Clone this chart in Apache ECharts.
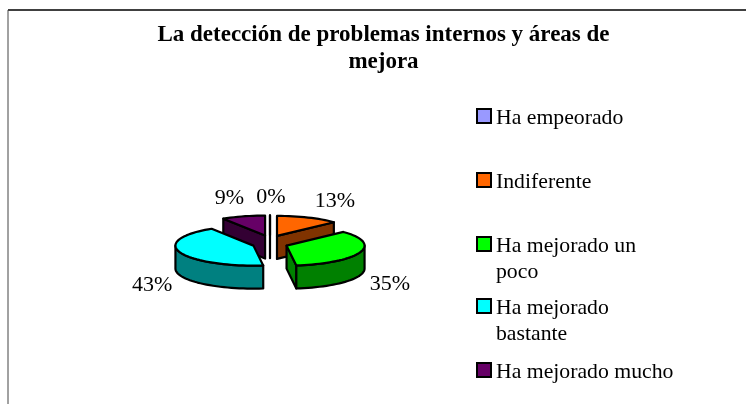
<!DOCTYPE html>
<html><head><meta charset="utf-8">
<style>html,body{margin:0;padding:0;background:#fff}#c{width:746px;height:404px}</style>
<script src="https://cdn.jsdelivr.net/npm/echarts@6/dist/echarts.min.js"></script>
</head><body><div id="c"></div>
<script>
const categories = ['Ha empeorado','Indiferente','Ha mejorado un\npoco','Ha mejorado\nbastante','Ha mejorado mucho'];
const values = [0,13,35,43,9];
const paintOrder = [4,0,1,2,3];
const topColors = ['#9999ff','#ff6600','#00ff00','#00ffff','#660066'];
const sideColors = ['#4c4c80','#803300','#008000','#008080','#330033'];
const labelNudges = [[1,-18],[27,-16],[30,32],[-28,33],[-14,-18]];

const FONT = '"Liberation Serif","Times New Roman",serif';
const C = {x:270,y:243,rx:78,ry:20,depth:23,ex:17.6,ey:7.75};
const rad = d => d*Math.PI/180;
const total = values.reduce((a,b)=>a+b,0);
const starts = []; values.reduce((s,v,i)=>{starts[i]=s; return s+v*360/total;},0);

function renderSlice(params, api){
  const i = api.value(0), v = api.value(1);
  const a0 = starts[i], a1 = a0 + v*360/total, mid = (a0+a1)/2;
  const ax = C.x + C.ex*Math.sin(rad(mid)), ay = C.y - C.ey*Math.cos(rad(mid));
  const pt = a => [ax + C.rx*Math.sin(rad(a)), ay - C.ry*Math.cos(rad(a))];
  const down = p => [p[0], p[1]+C.depth];
  const arc = (s,e) => { const out=[]; const n=Math.max(1,Math.ceil((e-s)/3)); for(let k=0;k<=n;k++) out.push(pt(s+(e-s)*k/n)); return out; };
  const st = fill => ({fill, stroke:'#000', lineWidth:2.2, lineJoin:'round'});
  const kids = [];
  const wall = a => kids.push({type:'polygon', shape:{points:[[ax,ay],pt(a),down(pt(a)),down([ax,ay])]}, style:st(sideColors[i])});
  if (v===0 || Math.sin(rad(a0))<-1e-6) wall(a0);
  if (v!==0 && Math.sin(rad(a1))>1e-6) wall(a1);
  const w0 = Math.max(a0,90), w1 = Math.min(a1,270);
  if (w1>w0){ const top = arc(w0,w1); kids.push({type:'polygon', shape:{points:top.concat(top.slice().reverse().map(down))}, style:st(sideColors[i])}); }
  kids.push({type:'polygon', shape:{points:[[ax,ay]].concat(arc(a0,a1))}, style:st(topColors[i])});
  const p = pt(mid), nudge = labelNudges[i];
  kids.push({type:'text', x:p[0]+nudge[0], y:p[1]+nudge[1], style:{text:v+'%', font:'22px '+FONT, fill:'#000', textAlign:'center', textVerticalAlign:'middle'}});
  return {type:'group', children:kids};
}

const swatchTops = [109,173,237,299,363];
const graphicEls = [
  {type:'line', shape:{x1:8,y1:10,x2:746,y2:10}, style:{stroke:'#000',lineWidth:1.5}},
  {type:'line', shape:{x1:8,y1:10,x2:8,y2:404}, style:{stroke:'#444',lineWidth:1}}
];
categories.forEach((name,i)=>{
  graphicEls.push({type:'rect', shape:{x:477,y:swatchTops[i],width:14,height:14}, style:{fill:topColors[i],stroke:'#000',lineWidth:2}});
  name.split('\n').forEach((line,k)=>{
    graphicEls.push({type:'text', x:496, y:swatchTops[i]+9+k*26, scaleX:1.035, style:{text:line, font:'21px '+FONT, fill:'#000', textAlign:'left', textVerticalAlign:'middle'}});
  });
});

const chart = echarts.init(document.getElementById('c'),null,{renderer:'canvas'});
chart.setOption({
  animation:false,
  backgroundColor:'#fff',
  title:{text:'La detección de problemas internos y áreas de\nmejora', left:378.5, top:17, textAlign:'center',
    textStyle:{fontFamily:FONT,fontWeight:'bold',fontSize:23,lineHeight:27,color:'#000'}},
  graphic:graphicEls,
  series:[{type:'custom', coordinateSystem:'none', renderItem:renderSlice, silent:true,
    data:paintOrder.map(i=>({name:categories[i].replace('\n',' '), value:[i,values[i]]}))}]
});
</script></body></html>
